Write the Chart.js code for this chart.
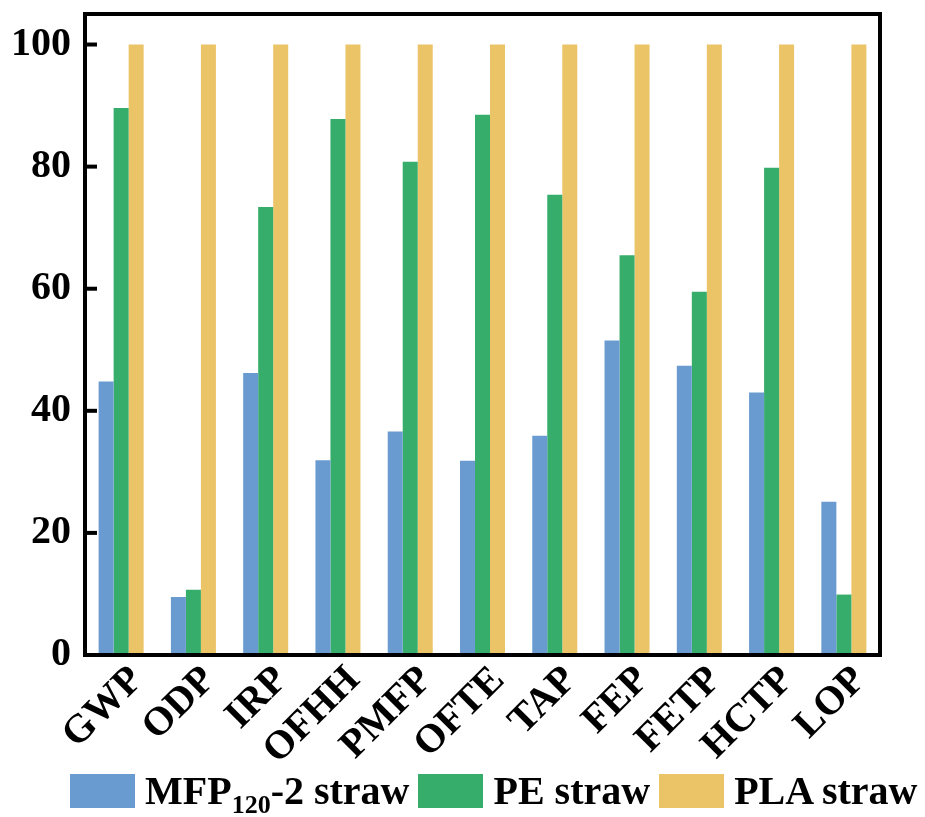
<!DOCTYPE html>
<html>
<head>
<meta charset="utf-8">
<script src="https://cdn.jsdelivr.net/npm/chart.js@4/dist/chart.umd.min.js"></script>
<style>
  html, body { margin: 0; padding: 0; background: #fff; }
  #wrap { position: relative; width: 925px; height: 817px; }
  #chart { position: absolute; left: 0; top: 0; }
  #legend {
    position: absolute; left: 70px; top: 767px;
    display: flex; align-items: center;
    font-family: "Liberation Serif", "Times New Roman", serif;
    font-weight: bold; font-size: 40px; color: #000; white-space: nowrap;
  }
  #legend .item { display: flex; align-items: center; margin-right: 9px; }
  #legend .swatch { width: 65px; height: 34px; margin-right: 10px; }
  #legend sub { font-size: 26px; vertical-align: -9px; line-height: 0; }
</style>
</head>
<body>
<div id="wrap">
  <canvas id="chart" width="925" height="817"></canvas>
  <div id="legend"></div>
</div>
<script>
// Impact categories on the x axis
const categories = ['GWP', 'ODP', 'IRP', 'OFHH', 'PMFP', 'OFTE', 'TAP', 'FEP', 'FETP', 'HCTP', 'LOP'];

// Relative impact of each straw (PLA straw = 100)
const mfpStraw = [44.8, 9.5, 46.2, 31.9, 36.6, 31.8, 35.9, 51.5, 47.4, 43.0, 25.1];
const peStraw  = [89.6, 10.7, 73.4, 87.8, 80.8, 88.5, 75.4, 65.5, 59.5, 79.8, 9.9];
const plaStraw = [100, 100, 100, 100, 100, 100, 100, 100, 100, 100, 100];

// Series names; "_{...}" marks a subscript
const seriesNames = ['MFP_{120}-2 straw', 'PE straw', 'PLA straw'];
const seriesColors = ['#6A9BD0', '#36AD6A', '#ECC468'];

// Value-axis tick labels
const yTicks = [0, 20, 40, 60, 80, 100];

const FONT = '"Liberation Serif", "Times New Roman", serif';

// Black box around the plot with short inward ticks on the value axis
const framePlugin = {
  id: 'frame',
  afterDatasetsDraw(chart) {
    const { ctx, chartArea: a, scales } = chart;
    ctx.save();
    ctx.strokeStyle = '#000';
    ctx.lineWidth = 4;
    ctx.strokeRect(a.left, a.top, a.right - a.left, a.bottom - a.top);
    yTicks.forEach(v => {
      const y = scales.y.getPixelForValue(v);
      ctx.beginPath();
      ctx.moveTo(a.left, y);
      ctx.lineTo(a.left + 12, y);
      ctx.stroke();
    });
    ctx.restore();
  }
};

const seriesData = [mfpStraw, peStraw, plaStraw];

const chart = new Chart(document.getElementById('chart'), {
  type: 'bar',
  data: {
    labels: categories,
    datasets: seriesData.map((d, i) => ({
      label: seriesNames[i].replace(/_\{(.*?)\}/g, '$1'),
      data: d,
      backgroundColor: seriesColors[i],
      borderWidth: 0,
      categoryPercentage: 0.623,
      barPercentage: 1.0
    }))
  },
  options: {
    responsive: false,
    animation: false,
    devicePixelRatio: 1,
    layout: { padding: { top: 14, right: 45, bottom: 0, left: 0 } },
    plugins: {
      legend: { display: false },
      tooltip: { enabled: false }
    },
    scales: {
      x: {
        grid: { display: false, drawTicks: false },
        border: { display: false },
        ticks: {
          color: '#000',
          font: { family: FONT, weight: 'bold', size: 40 },
          maxRotation: 45, minRotation: 45,
          padding: 2,
          labelOffset: 16,
          autoSkip: false
        },
        afterFit(scale) {
          // room for the slanted labels; the legend sits below them
          scale.height = 162;
          scale.paddingLeft = 0;
          scale.paddingRight = 0;
        }
      },
      y: {
        min: 0, max: 105,
        grid: { display: false, drawTicks: false },
        border: { display: false },
        afterBuildTicks(scale) { scale.ticks = yTicks.map(v => ({ value: v })); },
        ticks: {
          color: '#000',
          font: { family: FONT, weight: 'bold', size: 40 },
          padding: 14
        },
        afterFit(scale) {
          scale.width = 85;
          scale.paddingTop = 0;
          scale.paddingBottom = 0;
        }
      }
    }
  },
  plugins: [framePlugin]
});

// Legend drawn as HTML so the subscript can be typeset
const legend = document.getElementById('legend');
seriesNames.forEach((name, i) => {
  const item = document.createElement('div');
  item.className = 'item';
  const sw = document.createElement('div');
  sw.className = 'swatch';
  sw.style.background = seriesColors[i];
  const txt = document.createElement('span');
  name.split(/(_\{.*?\})/).forEach(part => {
    const m = part.match(/^_\{(.*)\}$/);
    if (m) {
      const s = document.createElement('sub');
      s.textContent = m[1];
      txt.appendChild(s);
    } else if (part) {
      txt.appendChild(document.createTextNode(part));
    }
  });
  item.appendChild(sw);
  item.appendChild(txt);
  legend.appendChild(item);
});
</script>
</body>
</html>
